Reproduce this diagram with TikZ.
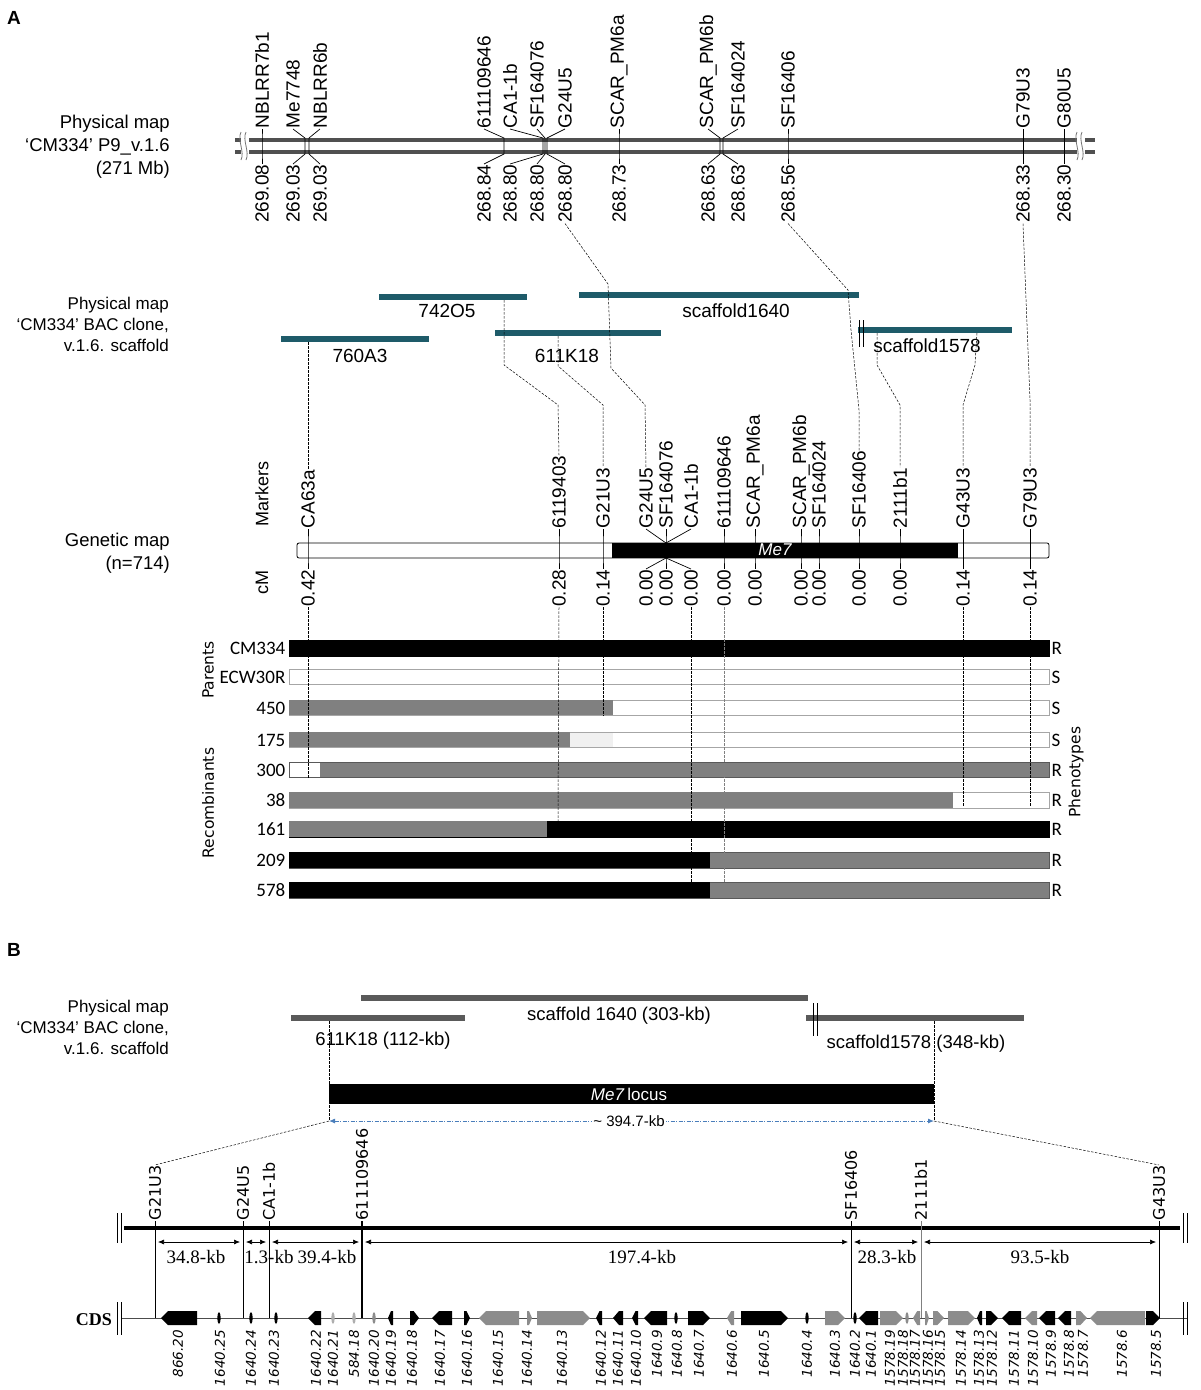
\documentclass[tikz,border=0pt]{standalone}
\usepackage{fontspec}
\setmainfont{Liberation Sans}
\newfontfamily\carl{Carlito}
\newfontfamily\dvs{DejaVu Sans}
\newfontfamily\lser{Liberation Serif}
\usetikzlibrary{arrows.meta,calc}
\newcommand\myfs[1]{\fontsize{#1}{#1}\selectfont}
\definecolor{chrom}{HTML}{505050}
\definecolor{tealbar}{HTML}{1E5B69}
\definecolor{rowgray}{HTML}{808080}
\definecolor{bgray}{HTML}{5A5A5A}
\definecolor{genegray}{HTML}{8C8C8C}
\definecolor{dimblue}{HTML}{4A7EBB}
\newcommand\geneR[3]{\pgfmathsetmacro\tp{min(7,(#2-#1)*0.6)}\fill[#3] (#1,1311) -- ({#2-\tp},1311) -- (#2,1318) -- ({#2-\tp},1325) -- (#1,1325) -- cycle;}
\newcommand\geneL[3]{\pgfmathsetmacro\tp{min(7,(#2-#1)*0.6)}\fill[#3] (#2,1311) -- ({#1+\tp},1311) -- (#1,1318) -- ({#1+\tp},1325) -- (#2,1325) -- cycle;}
\newcommand\geneT[2]{\fill[#2] (#1,1318) ellipse (1.6pt and 6pt);}
\begin{document}
\begin{tikzpicture}[x=1pt,y=-1pt,
  lab/.style={font=\myfs{19}, inner sep=0.5pt},
  dsh/.style={dash pattern=on 2.5pt off 1.5pt, line width=0.5pt},
  tick/.style={line width=0.7pt},
  rowlab/.style={font=\carl\myfs{19}, anchor=east, inner sep=0.5pt},
  phen/.style={font=\carl\myfs{19}, anchor=west, inner sep=0.5pt},
  side/.style={font=\dvs\myfs{15.5}, rotate=90, inner sep=0},
  kb/.style={font=\lser\myfs{19}, inner sep=0},
  blab/.style={font=\dvs\myfs{16}, rotate=90, anchor=west, inner sep=0.5pt},
  glab/.style={font=\dvs\itshape\myfs{13.5}, rotate=90, anchor=east, inner sep=0},
  dimarr/.style={{Latex[length=6pt,width=5pt]}-{Latex[length=6pt,width=5pt]}, line width=0.6pt}]
\useasboundingbox (0,0) rectangle (1200,1390);

%% ================= PANEL A =================
\node[font=\bfseries\myfs{19}, anchor=west, inner sep=0] (pA) at (7,18) {A};

\node[anchor=east, align=right, font=\fontsize{18.5}{23}\selectfont, inner sep=0] (pm1) at (170,147) {Physical map\\‘CM334’ P9\_v.1.6\\(271 Mb)};

% chromosome
\draw[chrom, line width=3.2pt] (235,140) -- (1095,140);
\draw[chrom, line width=3.2pt] (235,152) -- (1095,152);
\foreach \bx in {241,1077}{
  \fill[white] (\bx,132) rectangle ({\bx+8},160);
  \draw[chrom!80, line width=0.8pt] (\bx,132) .. controls ({\bx-4},140) and ({\bx+4},152) .. (\bx,160);
  \draw[chrom!80, line width=0.8pt] ({\bx+5},132) .. controls ({\bx+1},140) and ({\bx+9},152) .. ({\bx+5},160);
}
\foreach \lx/\px/\nm/\v [count=\i] in {262/262/NBLRR7b1/269.08, 293/305/Me7748/269.03, 320/309/NBLRR6b/269.03, 484/504/611109646/268.84, 510/543/CA1-1b/268.80, 537/545/SF164076/268.80, 565/547/G24U5/268.80, 619/619/SCAR\_PM6a/268.73, 708/720/SCAR\_PM6b/268.63, 738/723/SF164024/268.63, 788/788/SF16406/268.56, 1023/1023/G79U3/268.33, 1064/1064/G80U5/268.30}{
  \node[lab, rotate=90, anchor=west] (tm\i) at (\lx,129) {\nm};
  \node[lab, rotate=90, anchor=east] (tn\i) at (\lx,164) {\v};
  \draw[tick] (tm\i.west) -- (\px,138) -- (\px,154) -- (tn\i.east);
}

% BAC clones
\node[anchor=east, align=right, font=\fontsize{17}{21}\selectfont, inner sep=0] (pm2) at (169,324) {Physical map\\‘CM334’ BAC clone,\\v.1.6. scaffold};
\fill[tealbar] (379,294) rectangle (527,300);
\fill[tealbar] (579,292) rectangle (859,298);
\fill[tealbar] (281,336) rectangle (429,342);
\fill[tealbar] (495,330) rectangle (661,336);
\fill[tealbar] (858,327) rectangle (1012,333);
\draw[line width=0.6pt] (859,320) -- (859,347);
\draw[line width=0.6pt] (863,320) -- (863,347);
\node[lab] (c742) at (447,311) {742O5};
\node[lab] (c1640) at (736,311) {scaffold1640};
\node[lab] (c760) at (360,356) {760A3};
\node[lab] (c611) at (567,356) {611K18};
\node[lab] (c1578) at (927,346) {scaffold1578};

% genetic map
\node[side, font=\myfs{18}] (mk) at (262,494) {Markers};
\node[side, font=\myfs{18}] (cm) at (262,582) {cM};
\node[anchor=east, align=right, font=\fontsize{18.5}{23}\selectfont, inner sep=0] (gmap) at (170,553) {Genetic map\\(n=714)};
\draw[rounded corners=2pt, fill=white, line width=0.8pt] (297,543) rectangle (1049,558);
\fill[black] (612,543.4) rectangle (958,557.6);
\node[text=white, font=\itshape\myfs{17}, inner sep=0] (me7) at (775,550) {Me7};
\foreach \lx/\px/\nm/\v [count=\i] in {308/308/CA63a/0.42, 559/559/6119403/0.28, 603/603/G21U3/0.14, 646/666/G24U5/0.00, 666/666/SF164076/0.00, 691/666/CA1-1b/0.00, 724/724/611109646/0.00, 755/755/SCAR\_PM6a/0.00, 801/801/SCAR\_PM6b/0.00, 819/819/SF164024/0.00, 859/859/SF16406/0.00, 900/900/2111b1/0.00, 963/963/G43U3/0.14, 1030/1030/G79U3/0.14}{
  \node[lab, rotate=90, anchor=west] (gm\i) at (\lx,529) {\nm};
  \node[lab, rotate=90, anchor=east] (gv\i) at (\lx,569) {\v};
  \draw[tick] (gm\i.west) -- (\px,543) -- (\px,558) -- (gv\i.east);
}

% dashed connectors
\draw[dsh] (tn7.west) -- (608,284) -- (611,368) -- (645,405) -- (gm4.east);
\draw[dsh] (504,300) -- (504,365) -- (558,405) -- (gm2.east);
\draw[dsh] (558,336) -- (558,366) -- (603,405) -- (gm3.east);
\draw[dsh] (tn11.west) -- (848,290) -- (851,330) -- (859,410) -- (gm11.east);
\draw[dsh] (877,333) -- (877,365) -- (900,405) -- (gm12.east);
\draw[dsh] (977,333) -- (975,365) -- (963,405) -- (gm13.east);
\draw[dsh] (tn12.west) -- (1030,400) -- (gm14.east);
\draw[dsh] (308,342) -- (gm1.east);

% recombinant rows
\filldraw[fill=black, draw=black] (289,640) rectangle (1049,656);
\filldraw[fill=white, draw=gray!70] (289,669) rectangle (1049,684);
\filldraw[fill=white, draw=gray!70] (289,700) rectangle (1049,715);
\fill[rowgray] (289,700) rectangle (613,715);
\filldraw[fill=white, draw=gray!70] (289,732) rectangle (1049,747);
\fill[rowgray] (289,732) rectangle (570,747);
\fill[gray!12] (570,732.5) rectangle (613,746.5);
\filldraw[fill=rowgray, draw=gray!70!black] (289,762) rectangle (1049,777);
\fill[white] (289.5,762.5) rectangle (320,776.5);
\filldraw[fill=white, draw=gray!70] (289,792) rectangle (1049,808);
\fill[rowgray] (289,792) rectangle (953,808);
\filldraw[fill=black, draw=black] (289,821) rectangle (1049,837);
\fill[rowgray] (289,821) rectangle (547,837);
\filldraw[fill=rowgray, draw=gray!70!black] (289,852) rectangle (1049,868);
\fill[black] (289,852) rectangle (710,868);
\filldraw[fill=rowgray, draw=gray!70!black] (289,882) rectangle (1049,898);
\fill[black] (289,882) rectangle (710,898);

\draw[dsh] (gv1.west) -- (308,778);
\draw[dsh] (gv2.west) -- (558,822);
\draw[dsh] (gv3.west) -- (603,716);
\draw[dsh] (gv6.west) -- (691,884);
\draw[dsh, gray] (gv7.west) -- (724,897);
\draw[dsh] (gv13.west) -- (963,806);
\draw[dsh] (gv14.west) -- (1030,806);

\node[rowlab] (r1) at (286,648) {CM334};
\node[rowlab] (r2) at (286,677) {ECW30R};
\node[rowlab] (r3) at (286,708) {450};
\node[rowlab] (r4) at (286,740) {175};
\node[rowlab] (r5) at (286,770) {300};
\node[rowlab] (r6) at (286,800) {38};
\node[rowlab] (r7) at (286,829) {161};
\node[rowlab] (r8) at (286,860) {209};
\node[rowlab] (r9) at (286,890) {578};
\node[phen] (p1) at (1051,648) {R};
\node[phen] (p2) at (1051,677) {S};
\node[phen] (p3) at (1051,708) {S};
\node[phen] (p4) at (1051,740) {S};
\node[phen] (p5) at (1051,770) {R};
\node[phen] (p6) at (1051,800) {R};
\node[phen] (p7) at (1051,829) {R};
\node[phen] (p8) at (1051,860) {R};
\node[phen] (p9) at (1051,890) {R};
\node[side] (par) at (208,670) {Parents};
\node[side] (rec) at (208,803) {Recombinants};
\node[side] (phe) at (1076,772) {Phenotypes};

%% ================= PANEL B =================
\node[font=\bfseries\myfs{19}, anchor=west, inner sep=0] (pB) at (7,950) {B};
\node[anchor=east, align=right, font=\fontsize{17}{21}\selectfont, inner sep=0] (pm3) at (169,1027) {Physical map\\‘CM334’ BAC clone,\\v.1.6. scaffold};
\fill[bgray] (361,995) rectangle (808,1001);
\fill[bgray] (291,1015) rectangle (465,1021);
\fill[bgray] (806,1015) rectangle (1024,1021);
\draw[line width=0.6pt] (813,1003) -- (813,1036);
\draw[line width=0.6pt] (817,1003) -- (817,1036);
\node[lab, font=\myfs{18.5}] (s1640) at (619,1016) {scaffold 1640 (303-kb)};
\node[lab, font=\myfs{18.5}] (s611) at (383,1041) {611K18 (112-kb)};
\node[lab, font=\myfs{18.5}] (s1578) at (916,1044) {scaffold1578 (348-kb)};

\draw[dsh] (329,1021) -- (329,1121);
\draw[dsh] (934,1021) -- (934,1121);
\fill[black] (329,1084) rectangle (934,1104);
\node[text=white, font=\myfs{17}, inner sep=0] (locus) at (629,1094) {\textit{Me7}\,locus};
\coordinate (dL) at (329,1121);
\coordinate (dR) at (934,1121);
\draw[dimblue, dash pattern=on 4pt off 1.5pt on 1pt off 1.5pt, line width=1pt, {Latex[length=6pt,width=5pt]}-{Latex[length=6pt,width=5pt]}] (dL) -- (dR);
\node[fill=white, font=\myfs{15}, inner sep=1pt] (kbtot) at (629,1121) {\textasciitilde\ 394.7-kb};

% backbone
\draw[line width=4pt] (124,1228) -- (1180,1228);
\foreach \bx in {117,121,1183,1187}{\draw[line width=0.7pt] (\bx,1213) -- (\bx,1243);}
\foreach \x/\nm/\w/\c [count=\i] in {155/G21U3/0.7/black, 243/G24U5/0.9/black, 269/CA1-1b/0.9/black, 362/611109646/1.6/black, 851/SF16406/0.9/black, 921/2111b1/0.9/gray, 1159/G43U3/0.9/black}{
  \node[blab] (bm\i) at (\x,1221) {\nm};
  \draw[line width=\w pt, \c] (bm\i.west) -- (\x,1318);
}
\draw[dsh] (dL) -- (bm1.east);
\draw[dsh] (dR) -- (bm7.east);

% distances
\draw[dimarr] (158,1242) -- (240,1242);
\draw[dimarr] (246,1242) -- (266,1242);
\draw[dimarr] (272,1242) -- (359,1242);
\draw[dimarr] (365,1242) -- (848,1242);
\draw[dimarr] (854,1242) -- (918,1242);
\draw[dimarr] (924,1242) -- (1156,1242);
\node[kb] (k1) at (196,1257) {34.8-kb};
\node[kb] (k2) at (269,1257) {1.3-kb};
\node[kb] (k3) at (327,1257) {39.4-kb};
\node[kb] (k4) at (642,1257) {197.4-kb};
\node[kb] (k5) at (887,1257) {28.3-kb};
\node[kb] (k6) at (1040,1257) {93.5-kb};

% CDS
\draw[line width=0.8pt, gray!60!black] (121,1318) -- (1187,1318);
\foreach \bx in {117,121,1183,1187}{\draw[line width=0.7pt] (\bx,1302) -- (\bx,1335);}
\node[font=\lser\bfseries\myfs{18}, inner sep=0] (cds) at (94,1320) {CDS};

\geneL{161}{197}{black}
\geneT{219}{black}
\geneT{251}{black}
\geneT{276}{black}
\geneL{308}{321}{black}
\geneT{333}{genegray!70}
\geneT{354}{genegray!70}
\geneT{374}{genegray}
\geneL{388}{393}{black}
\geneR{410}{419}{black}
\geneL{432}{452}{black}
\geneR{464}{470}{black}
\geneL{479}{519}{genegray}
\geneR{527}{532}{genegray}
\geneR{537}{590}{genegray}
\geneL{596}{602}{black}
\geneL{613}{623}{black}
\geneL{632}{638}{black}
\geneL{644}{667}{black}
\geneT{676}{black}
\geneR{688}{710}{black}
\geneL{727}{734}{genegray}
\geneR{741}{788}{black}
\geneT{807}{black}
\geneR{825}{845}{genegray}
\geneT{855}{black}
\geneL{859}{878}{black}
\geneR{880}{903}{genegray}
\geneT{907}{genegray}
\geneL{913}{920}{genegray}
\geneR{925}{929}{genegray}
\geneR{933}{944}{genegray}
\geneR{948}{975}{genegray}
\geneL{977}{982}{black}
\geneR{986}{998}{black}
\geneL{1002}{1021}{black}
\geneL{1025}{1037}{genegray}
\geneL{1039}{1055}{black}
\geneL{1058}{1071}{black}
\geneR{1076}{1087}{genegray}
\geneL{1090}{1145}{genegray}
\geneR{1146}{1160}{black}

\foreach \x/\t [count=\i] in {178/866.20, 220/1640.25, 251/1640.24, 274/1640.23, 316/1640.22, 333/1640.21, 354/584.18, 374/1640.20, 391/1640.19, 412/1640.18, 440/1640.17, 467/1640.16, 498/1640.15, 527/1640.14, 562/1640.13, 601/1640.12, 618/1640.11, 636/1640.10, 657/1640.9, 677/1640.8, 699/1640.7, 732/1640.6, 764/1640.5, 807/1640.4, 835/1640.3, 855/1640.2, 871/1640.1, 890/1578.19, 903/1578.18, 915/1578.17, 928/1578.16, 940/1578.15, 961/1578.14, 979/1578.13, 992/1578.12, 1014/1578.11, 1033/1578.10, 1051/1578.9, 1069/1578.8, 1083/1578.7, 1122/1578.6, 1156/1578.5}{
  \node[glab] (gl\i) at (\x,1330) {\t};
}
\end{tikzpicture}
\end{document}
